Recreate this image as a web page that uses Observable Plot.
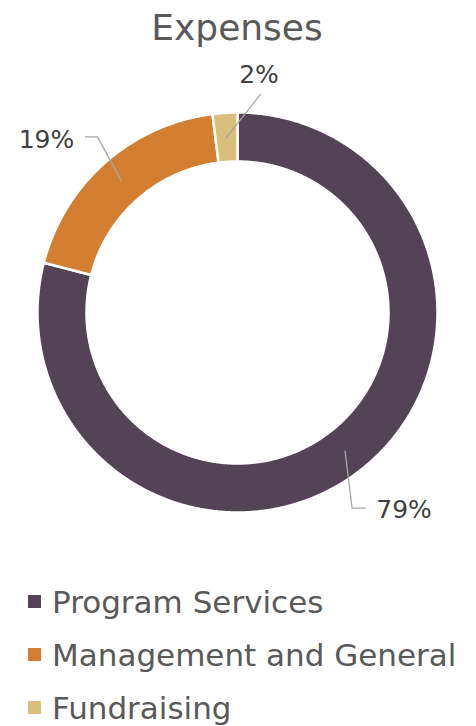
<!DOCTYPE html>
<html><head><meta charset="utf-8">
<script src="https://cdn.jsdelivr.net/npm/d3@7"></script>
<script src="https://cdn.jsdelivr.net/npm/@observablehq/plot@0.6"></script>
<style>
body{margin:0;background:#fff;font-family:"DejaVu Sans",Verdana,sans-serif;width:476px;overflow:hidden}
#title{height:50px;box-sizing:border-box;padding-top:6px;line-height:44px;font-size:36px;color:#595959;text-align:center;padding-right:2px}
#chart svg{display:block}
#legend{margin-top:26px;font-size:31px;color:#595959;line-height:53px}
.row{white-space:nowrap;padding-left:28px;height:53px}
.sw{display:inline-block;width:13px;height:13px;margin-right:11px;vertical-align:5px}
</style></head><body>
<div id="title">Expenses</div>
<div id="chart"></div>
<div id="legend"></div>
<script>
// ---- data ----
const categories = ["Program Services", "Management and General", "Fundraising"];
const values = [79, 19, 2];
const labels = ["79%", "19%", "2%"];
const colors = ["#534455", "#d37e30", "#d8bf7c"];

// ---- layout (pixel units) ----
const W = 476, H = 500, cx = 237, cy = 262;
const rOuter = 200, rInner = 151;
const rAnchor = (rOuter + rInner) / 2;
// leader/label offsets relative to the slice anchor point
const labelLayout = [
  {pts: [[7, 57], [20, 57]], text: [59, 59]},
  {pts: [[-24, -44], [-36, -44]], text: [-75, -41]},
  {pts: [[34, -43]], text: [32.5, -62]}
];

const arcs = d3.pie().sort(null)(values);
const polar = (r, a) => [r * Math.sin(a), -r * Math.cos(a)];

const slicePts = [];
arcs.forEach((a, i) => {
  const n = Math.max(8, Math.ceil((a.endAngle - a.startAngle) * 120));
  const outer = [], inner = [];
  for (let k = 0; k <= n; k++) {
    const t = a.startAngle + (a.endAngle - a.startAngle) * k / n;
    outer.push(polar(rOuter, t));
    inner.push(polar(rInner, t));
  }
  outer.concat(inner.reverse()).forEach(([x, y]) => slicePts.push({name: categories[i], x, y}));
});

const leaderPts = [], textData = [];
arcs.forEach((a, i) => {
  const mid = (a.startAngle + a.endAngle) / 2;
  const [ax, ay] = polar(rAnchor, mid);
  leaderPts.push({name: categories[i], x: ax, y: ay});
  labelLayout[i].pts.forEach(([dx, dy]) => leaderPts.push({name: categories[i], x: ax + dx, y: ay + dy}));
  textData.push({text: labels[i], x: ax + labelLayout[i].text[0], y: ay + labelLayout[i].text[1]});
});

const chart = Plot.plot({
  width: W, height: H,
  margin: 0,
  x: {domain: [-cx, W - cx], range: [0, W], axis: null},
  y: {domain: [-cy, H - cy], range: [0, H], axis: null},
  color: {domain: categories, range: colors},
  style: {background: "#fff", overflow: "visible"},
  marks: [
    Plot.line(slicePts, {x: "x", y: "y", z: "name", fill: "name", stroke: "white", strokeWidth: 2.5, curve: "linear-closed"}),
    Plot.line(leaderPts, {x: "x", y: "y", z: "name", stroke: "#a6a6a6", strokeWidth: 1.3}),
    Plot.text(textData, {x: "x", y: "y", text: "text", fontSize: 25, fill: "#404040", fontFamily: "DejaVu Sans, Verdana, sans-serif"})
  ]
});
document.getElementById("chart").appendChild(chart);

const legend = document.getElementById("legend");
categories.forEach((c, i) => {
  const row = document.createElement("div");
  row.className = "row";
  const sw = document.createElement("span");
  sw.className = "sw";
  sw.style.background = colors[i];
  row.appendChild(sw);
  row.appendChild(document.createTextNode(c));
  legend.appendChild(row);
});
</script>
</body></html>
